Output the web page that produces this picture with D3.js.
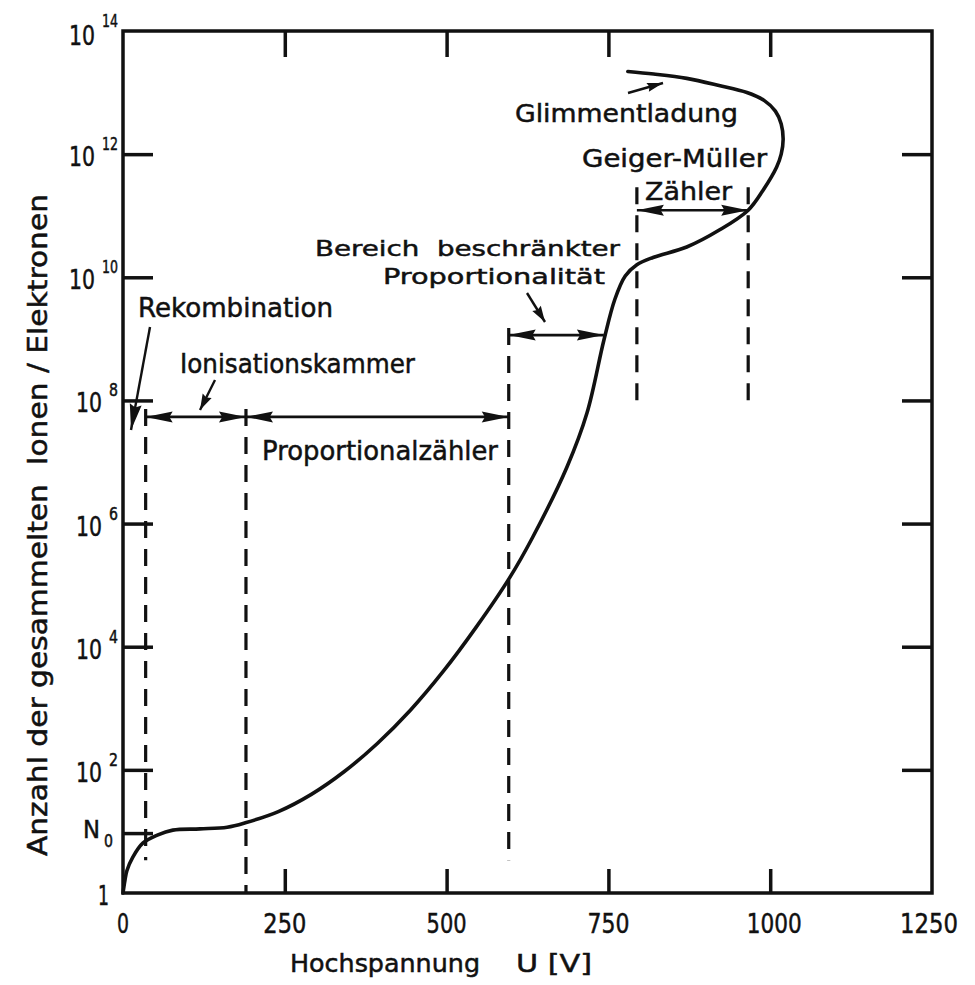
<!DOCTYPE html>
<html><head><meta charset="utf-8">
<script src="https://cdn.jsdelivr.net/npm/d3@7"></script>
<style>body{margin:0;background:#fff} svg{display:block}</style>
</head><body>
<svg id="c" width="975" height="985"></svg>
<script>
// ---- data ----
const voltage = [0,3,6,15,31,53,77,119,161,189,240,291,342,393,444,495,546,597,633,686,717,743,760,776,794,819,871,922,966,989,1010,1017,1020,1017,1008,991,964,921,871,820,780];
const count = [1,1.6,2.3,3.8,6.5,8.7,10.5,11,11.7,13.8,21,40,94,268,929,4.0e3,2.1e4,1.3e5,6.0e5,8.3e6,6.3e7,9.5e8,4.4e9,1.05e10,1.6e10,2.1e10,3.1e10,5.9e10,1.23e11,2.6e11,6.2e11,1.0e12,1.75e12,3.1e12,5.0e12,7.4e12,1.0e13,1.3e13,1.7e13,2.0e13,2.2e13];
const xTicks = [0,250,500,750,1000,1250];
const xTickLabels = ["0","250","500","750","1000","1250"];
const N0 = 9.4;
const yTickExp = [2,4,6,8,10,12,14];
const yTickExpLabels = ["2","4","6","8","10","12","14"];
const regionBounds = [35,190,596,794,966];       // V
const arrowLevels = [5.4e7, 1.15e9, 1.23e11];     // counts
const bereichEnd = 743;                            // V (curve)
const regionNames = ["Rekombination","Ionisationskammer","Proportionalzähler","Bereich  beschränkter","Proportionalität","Geiger-Müller","Zähler","Glimmentladung"];
const xTitle = ["Hochspannung","U [V]"];
const yTitle = "Anzahl der gesammelten  Ionen / Elektronen";

// ---- layout ----
const L = 123, R = 932, T = 31, B = 893;
const ink = "#111";
const FONT = "DejaVu Sans, Liberation Sans, sans-serif";
const svg = d3.select("#c");
const x = d3.scaleLinear().domain([0,1250]).range([L,R]);
const y = d3.scaleLog().domain([1,1e14]).range([B,T]);

// axes (inward ticks)
const inner = [250,500,750,1000];
const yIn = yTickExp.slice(0,6).map(e=>Math.pow(10,e));
function styleAxis(g){ g.select(".domain").remove(); g.selectAll("line").attr("stroke",ink).attr("stroke-width",3.5); g.selectAll("text").remove(); }
svg.append("g").attr("transform",`translate(0,${B})`).call(d3.axisBottom(x).tickValues(inner).tickSize(-24).tickSizeOuter(0)).call(styleAxis);
svg.append("g").attr("transform",`translate(0,${T})`).call(d3.axisTop(x).tickValues(inner).tickSize(-26).tickSizeOuter(0)).call(styleAxis);
svg.append("g").attr("transform",`translate(${L},0)`).call(d3.axisLeft(y).tickValues([N0].concat(yIn)).tickSize(-30).tickSizeOuter(0)).call(styleAxis);
svg.append("g").attr("transform",`translate(${R},0)`).call(d3.axisRight(y).tickValues(yIn).tickSize(-30).tickSizeOuter(0)).call(styleAxis);

// frame
svg.append("rect").attr("x",L).attr("y",T).attr("width",R-L).attr("height",B-T)
  .attr("fill","none").attr("stroke",ink).attr("stroke-width",3.5);

function txt(s,px,py,size,len,anchor){
  const t = svg.append("text").attr("x",px).attr("y",py).attr("font-family",FONT)
    .attr("font-size",size).attr("fill",ink).attr("stroke",ink).attr("stroke-width",0.5)
    .attr("text-anchor",anchor||"start")
    .style("white-space","pre").text(s);
  if(len) t.attr("textLength",len).attr("lengthAdjust","spacingAndGlyphs");
  return t;
}

// x tick labels
const xLabLen = [12,43,40,42,55,58];
xTicks.forEach((v,i)=>{ txt(xTickLabels[i], x(v)+(i===4?4:(i===5?-3:0)), 933, 27, xLabLen[i], "middle"); });

// y tick labels
yTickExp.forEach((e,i)=>{
  const yy = y(Math.pow(10,e));
  const two = yTickExpLabels[i].length>1;
  const ew = two?16:9;
  const off = e===14?14:12;
  txt(yTickExpLabels[i], 118, yy-4, 17, ew, "end");
  txt("10", 118-ew-7, yy+off, 26, 26, "end");
});
txt("1", 109, y(1)+12, 26, 11, "end");
txt("N", 100, y(N0)+5, 24, 17, "end");
txt("0", 113, y(N0)+14, 17, 9, "end");

// axis titles
txt(xTitle[0], 290, 972, 25, 190);
txt(xTitle[1], 516, 972, 25, 76);
txt(yTitle, 0, 0, 27, 662, "middle").attr("transform","translate(47,525) rotate(-90)");

// curve
const pts = voltage.map((u,i)=>({u, n: count[i]}));
const line = d3.line().x(d=>x(d.u)).y(d=>y(d.n)).curve(d3.curveCatmullRom.alpha(0.5));
svg.append("path").datum(pts).attr("d",line).attr("fill","none").attr("stroke",ink)
  .attr("stroke-width",3.6).attr("stroke-linecap","round").attr("stroke-linejoin","round");

// dashed boundary lines
const dashSpec = [
  [regionBounds[0], arrowLevels[0], 3.4, 8],
  [regionBounds[1], arrowLevels[0], 1, 8],
  [regionBounds[2], arrowLevels[1], 3.4, 7],
  [regionBounds[3], 2.9e11, 6.9e7, 0],
  [regionBounds[4], 2.9e11, 6.9e7, 0]
];
dashSpec.forEach(([u,top,bot,pre])=>{
  svg.append("line").attr("x1",x(u)).attr("x2",x(u)).attr("y1",y(top)-pre).attr("y2",y(bot))
    .attr("stroke",ink).attr("stroke-width",3.2).attr("stroke-dasharray","17,11");
});

// arrows
function head(px,py,ang,len,hw){
  const c=Math.cos(ang), s=Math.sin(ang);
  const bx=px-c*len, by=py-s*len;
  svg.append("path").attr("d",`M${px},${py}L${bx-s*hw},${by+c*hw}L${bx+c*len*0.12},${by+s*len*0.12}L${bx+s*hw},${by-c*hw}Z`).attr("fill",ink);
}
function dbl(u1,u2,n){
  const x1=x(u1), x2=x(u2), yy=y(n);
  svg.append("line").attr("x1",x1).attr("x2",x2).attr("y1",yy).attr("y2",yy).attr("stroke",ink).attr("stroke-width",2.6);
  head(x1,yy,Math.PI,27,5.5); head(x2,yy,0,27,5.5);
}
function arrow(x1,y1,x2,y2,len,hw){
  svg.append("line").attr("x1",x1).attr("y1",y1).attr("x2",x2).attr("y2",y2).attr("stroke",ink).attr("stroke-width",2.4);
  head(x2,y2,Math.atan2(y2-y1,x2-x1),len,hw);
}
dbl(regionBounds[0], regionBounds[1], arrowLevels[0]);
dbl(regionBounds[1], regionBounds[2], arrowLevels[0]);
dbl(regionBounds[2], bereichEnd, arrowLevels[1]);
dbl(regionBounds[3], regionBounds[4], arrowLevels[2]);

// annotation labels + pointer arrows
txt(regionNames[0], 138, 317, 26, 195);
arrow(150,327,131,430,26,6);
txt(regionNames[1], 180, 373, 26, 235);
arrow(215,380,200,410,16,5);
txt(regionNames[2], 262, 460, 26, 236);
txt(regionNames[3], 315, 256, 22, 305);
txt(regionNames[4], 383, 284, 22, 222);
arrow(527,293,545,322,16,5);
txt(regionNames[5], 582, 167, 24, 185);
txt(regionNames[6], 645, 200, 24, 87);
txt(regionNames[7], 515, 122, 25, 223);
arrow(628,93,663,83,16,4.5);
</script>
</body></html>
